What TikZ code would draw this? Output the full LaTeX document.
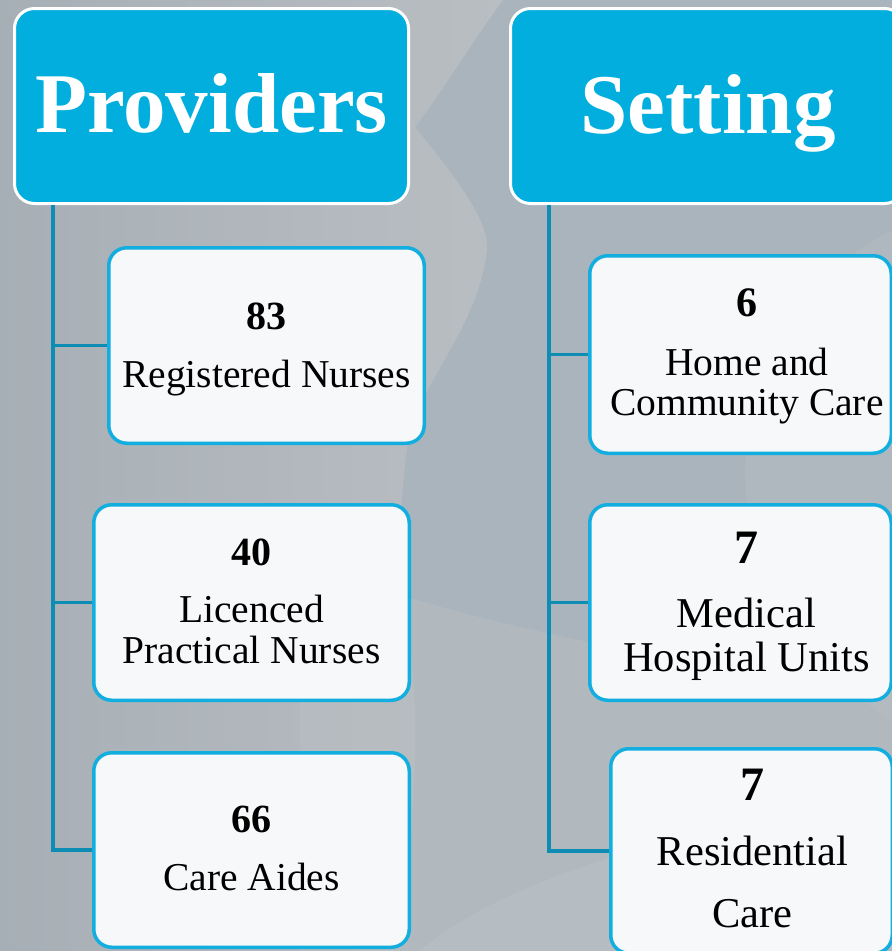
\documentclass[tikz,border=0pt]{standalone}
\usepackage{fontspec}
\setmainfont{Liberation Serif}
\definecolor{bgbase}{HTML}{A9B4BD}
\definecolor{bglight}{HTML}{B9BEC2}
\definecolor{bgleft}{HTML}{A7AFB6}
\definecolor{hdrblue}{HTML}{01AEDE}
\definecolor{boxline}{HTML}{12AEDF}
\definecolor{boxfill}{HTML}{F6F8F9}
\definecolor{connblue}{HTML}{0E8DB4}
\begin{document}
\begin{tikzpicture}[x=1pt,y=-1pt,
  hdr/.style={draw=white,line width=3pt,fill=hdrblue,rounded corners=20pt,inner sep=0pt,anchor=north west},
  hdrtext/.style={text=white,font=\fontsize{85}{90}\selectfont\bfseries,anchor=base,inner sep=0pt},
  itembox/.style={draw=boxline,line width=3.5pt,fill=boxfill,rounded corners=18pt,inner sep=0pt,anchor=north west},
  num/.style={font=\fontsize{40}{44}\selectfont\bfseries,anchor=base,inner sep=0pt},
  numbig/.style={font=\fontsize{48}{52}\selectfont\bfseries,anchor=base,inner sep=0pt},
  desc/.style={font=\fontsize{39.5}{42}\selectfont,anchor=base,inner sep=0pt},
  descbig/.style={font=\fontsize{42.5}{46}\selectfont,anchor=base,inner sep=0pt},
  conn/.style={draw=connblue,line width=3.5pt}]
\useasboundingbox (0,0) rectangle (892,951);
\begin{scope}
\clip (0,0) rectangle (892,951);
\fill[bgbase] (0,0) rectangle (892,951);
\shade[left color=bgleft,right color=bglight]
  (0,0) -- (503,0) .. controls (470,45) and (440,95) .. (415,127)
  .. controls (450,170) and (490,220) .. (487,250)
  .. controls (480,320) and (425,380) .. (410,430)
  .. controls (395,520) and (400,600) .. (412,660)
  .. controls (420,760) and (410,860) .. (400,951) -- (0,951) -- cycle;
\fill[bglight,opacity=0.5]
  (300,560) .. controls (450,620) and (650,660) .. (892,690) -- (892,951) -- (300,951) -- cycle;
\fill[bglight,opacity=0.4]
  (892,230) .. controls (760,300) and (720,450) .. (760,560)
  .. controls (790,640) and (840,690) .. (892,720) -- cycle;
\fill[white,opacity=0.06]
  (420,951) .. controls (500,880) and (700,820) .. (892,800) -- (892,951) -- cycle;
\end{scope}

% headers
\node[hdr,minimum width=394pt,minimum height=195pt] (hp) at (13,7) {};
\node[hdr,minimum width=394pt,minimum height=195pt] (hs) at (509,7) {};

% boxes
\node[itembox,minimum width=315.5pt,minimum height=195.5pt] (p1) at (107,246) {};
\node[itembox,minimum width=315.5pt,minimum height=195.5pt] (p2) at (92,503) {};
\node[itembox,minimum width=315.5pt,minimum height=194.5pt] (p3) at (92,751) {};
\node[itembox,minimum width=301.5pt,minimum height=197.5pt] (s1) at (588,254) {};
\node[itembox,minimum width=301.5pt,minimum height=195.5pt] (s2) at (588,503) {};
\node[itembox,minimum width=281.5pt,minimum height=204.5pt] (s3) at (609,747) {};

% connectors
\draw[conn] ([xshift=40pt]hp.south west) |- (p1.west);
\draw[conn] ([xshift=40pt]hp.south west) |- (p2.west);
\draw[conn] ([xshift=40pt]hp.south west) |- (p3.west);
\draw[conn] ([xshift=40pt]hs.south west) |- (s1.west);
\draw[conn] ([xshift=40pt]hs.south west) |- (s2.west);
\draw[conn] ([xshift=40pt]hs.south west) |- (s3.west);

% header texts
\node[hdrtext] (hpt) at (211.5,132) {Providers};
\node[hdrtext] (hst) at (708,133) {Setting};

% box texts
\node[num] (p1n) at (266.5,329.5) {83};
\node[desc] (p1a) at (266.5,387) {Registered Nurses};
\node[num] (p2n) at (251.5,565) {40};
\node[desc] (p2a) at (251.5,622) {Licenced};
\node[desc] (p2b) at (251.5,663) {Practical Nurses};
\node[num] (p3n) at (251.5,832.7) {66};
\node[desc] (p3a) at (251.5,890) {Care Aides};
\node[num,font=\fontsize{42}{46}\selectfont\bfseries] (s1n) at (747,316) {6};
\node[desc] (s1a) at (747,375) {Home and};
\node[desc] (s1b) at (747,415) {Community Care};
\node[numbig] (s2n) at (746.5,563) {7};
\node[descbig] (s2a) at (746.5,627) {Medical};
\node[descbig] (s2b) at (746.5,671) {Hospital Units};
\node[numbig] (s3n) at (752.5,800.7) {7};
\node[descbig] (s3a) at (752.5,865.7) {Residential};
\node[descbig] (s3b) at (752.5,927.7) {Care};
\end{tikzpicture}
\end{document}
